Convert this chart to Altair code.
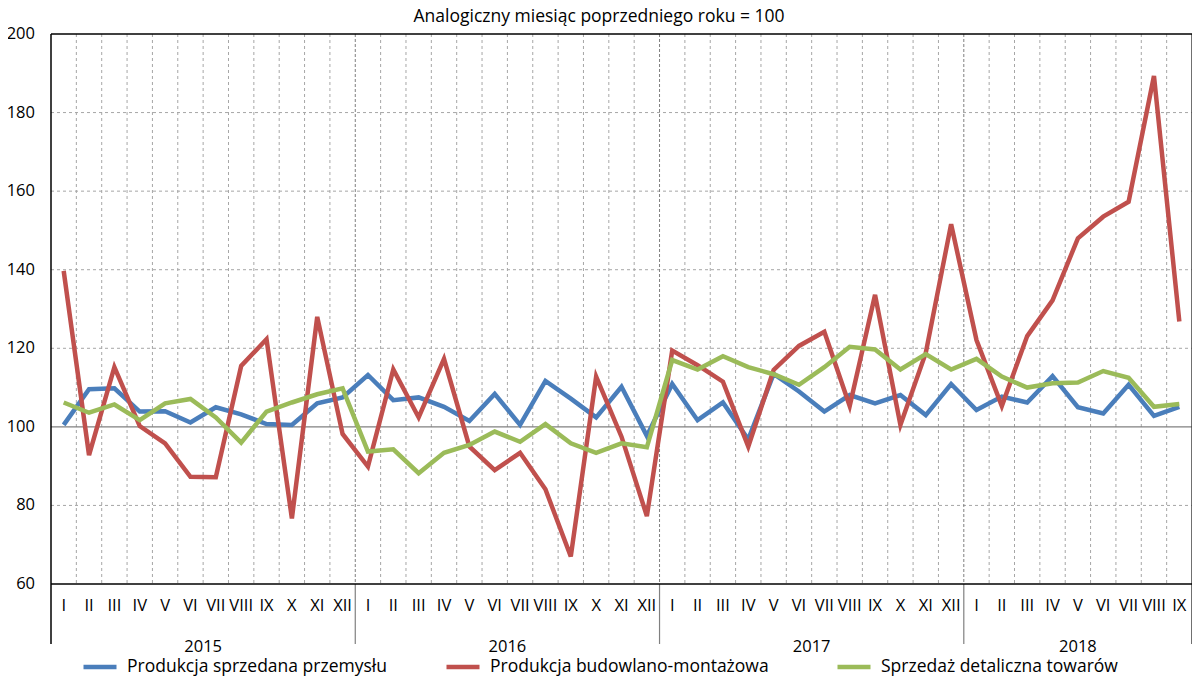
import altair as alt
import pandas as pd

months = ["I", "II", "III", "IV", "V", "VI", "VII", "VIII", "IX", "X", "XI", "XII"] * 3 + \
         ["I", "II", "III", "IV", "V", "VI", "VII", "VIII", "IX"]
years = ["2015", "2016", "2017", "2018"]
year_months = [12, 12, 12, 9]

s_names = ["Produkcja sprzedana przemysłu", "Produkcja budowlano-montażowa", "Sprzedaż detaliczna towarów"]
s_colors = ["#4A7EBB", "#C0504D", "#9BBB59"]

industry = [100.5, 109.6, 109.8, 103.9, 104.0, 101.1, 105.0, 103.2, 100.7, 100.5, 106.0, 107.5,
            113.2, 106.8, 107.5, 105.1, 101.5, 108.4, 100.5, 111.7, 107.2, 102.4, 110.2, 97.7,
            110.9, 101.7, 106.2, 96.8, 113.5, 109.0, 103.9, 108.1, 106.0, 108.1, 103.0, 110.9,
            104.3, 107.7, 106.2, 112.9, 105.0, 103.4, 110.7, 102.8, 105.1]
construction = [139.7, 92.8, 115.2, 100.2, 95.8, 87.3, 87.2, 115.5, 122.3, 76.7, 128.0, 98.2,
                89.9, 114.6, 102.4, 117.3, 95.0, 89.0, 93.4, 84.1, 67.0, 112.8, 97.5, 77.3,
                119.4, 115.7, 111.5, 95.0, 114.5, 120.6, 124.2, 105.3, 133.6, 100.5, 118.8, 151.6,
                122.1, 105.3, 123.1, 132.2, 148.0, 153.5, 157.3, 189.3, 126.8]
retail = [106.2, 103.6, 105.7, 101.7, 106.0, 107.1, 102.4, 96.0, 103.9, 106.2, 108.3, 109.8,
          93.7, 94.3, 88.2, 93.4, 95.4, 98.8, 96.2, 100.7, 95.8, 93.4, 95.8, 94.8,
          117.0, 114.6, 118.0, 115.2, 113.4, 110.7, 115.2, 120.4, 119.7, 114.6, 118.5, 114.6,
          117.3, 112.8, 110.0, 111.1, 111.3, 114.2, 112.5, 105.1, 105.8]

y_ticks = [60, 80, 100, 120, 140, 160, 180, 200]
title_text = "Analogiczny miesiąc poprzedniego roku = 100"

FONT = "Open Sans"
W, H = 1141, 550
n = len(months)

xs = alt.Scale(domain=[-0.5, n - 0.5], nice=False, zero=False)
ys = alt.Scale(domain=[60, 200], nice=False, zero=False)

# year boundaries
bounds = [-0.5]
for m in year_months:
    bounds.append(bounds[-1] + m)
year_centers = [(bounds[i] + bounds[i + 1]) / 2 for i in range(len(years))]
inner_bounds = bounds[1:-1]

vgrid = pd.DataFrame({"x": [i + 0.5 for i in range(n - 1) if (i + 0.5) not in inner_bounds]})
vgrid_year = pd.DataFrame({"x": inner_bounds})
hgrid = pd.DataFrame({"y": [v for v in y_ticks if v not in (60, 100, 200)]})

X = lambda f: alt.X(f, type="quantitative", scale=xs, axis=None)
Y = lambda f: alt.Y(f, type="quantitative", scale=ys, axis=None)

layers = []
layers.append(alt.Chart(hgrid).mark_rule(color="#A6A6A6", strokeDash=[3, 3], strokeWidth=1).encode(
    y=Y("y"), x=alt.value(0), x2=alt.value(W)))
layers.append(alt.Chart(vgrid).mark_rule(color="#A6A6A6", strokeDash=[3, 3], strokeWidth=1).encode(
    x=X("x"), y=alt.value(0), y2=alt.value(H)))
layers.append(alt.Chart(vgrid_year).mark_rule(color="#7F7F7F", strokeDash=[3, 2], strokeWidth=1).encode(
    x=X("x"), y=alt.value(0), y2=alt.value(H)))
layers.append(alt.Chart(pd.DataFrame({"y": [100]})).mark_rule(color="#808080", strokeWidth=1.2).encode(
    y=Y("y"), x=alt.value(0), x2=alt.value(W)))
# separators below the axis
layers.append(alt.Chart(pd.DataFrame({"x": inner_bounds})).mark_rule(color="#808080", strokeWidth=1.2).encode(
    x=X("x"), y=alt.value(H), y2=alt.value(H + 60)))
layers.append(alt.Chart(pd.DataFrame({"x": [bounds[0]]})).mark_rule(color="#000000", strokeWidth=1.5).encode(
    x=X("x"), y=alt.value(0), y2=alt.value(H + 60)))
layers.append(alt.Chart(pd.DataFrame({"x": [bounds[-1]]})).mark_rule(color="#404040", strokeWidth=1.5).encode(
    x=X("x"), y=alt.value(0), y2=alt.value(H + 60)))
# top and bottom borders
layers.append(alt.Chart(pd.DataFrame({"y": [60, 200]})).mark_rule(color="#000000", strokeWidth=1.5).encode(
    y=Y("y"), x=alt.value(0), x2=alt.value(W)))
# y axis labels
layers.append(alt.Chart(pd.DataFrame({"y": y_ticks})).mark_text(
    align="right", baseline="middle", font=FONT, fontSize=16.5, color="#000000").encode(
    y=Y("y"), x=alt.value(-16), text=alt.Text("y:Q")))
# month labels
mdf = pd.DataFrame({"x": list(range(n)), "m": months})
layers.append(alt.Chart(mdf).mark_text(
    align="center", baseline="middle", font=FONT, fontSize=16.5, color="#000000").encode(
    x=X("x"), y=alt.value(H + 22), text="m:N"))
# year labels
ydf = pd.DataFrame({"x": year_centers, "yr": years})
layers.append(alt.Chart(ydf).mark_text(
    align="center", baseline="middle", font=FONT, fontSize=16.5, color="#000000").encode(
    x=X("x"), y=alt.value(H + 63), text="yr:N"))
# title
layers.append(alt.Chart(pd.DataFrame({"t": [title_text]})).mark_text(
    align="center", baseline="alphabetic", font=FONT, fontSize=17.5, color="#000000").encode(
    x=alt.value(548), y=alt.value(-12), text="t:N"))

legend_x = [30, 393, 784]
series = [industry, construction, retail]
for k in range(3):
    df = pd.DataFrame({"x": list(range(n)), "v": series[k], "s": s_names[k]})
    layers.append(alt.Chart(df).mark_line(strokeWidth=4.5).encode(
        x=X("x"), y=Y("v"),
        color=alt.Color("s:N", scale=alt.Scale(domain=[s_names[k]], range=[s_colors[k]]),
                        legend=alt.Legend(title=None, orient="none", legendX=legend_x[k], legendY=614,
                                          symbolType="stroke", symbolSize=1089, symbolStrokeWidth=4.5,
                                          labelFont=FONT, labelFontSize=17.5, labelColor="#000000",
                                          labelLimit=400, labelOffset=8, padding=0))))

chart = alt.layer(*layers).resolve_scale(color="independent").resolve_legend(color="independent").properties(
    width=W, height=H,
    autosize=alt.AutoSizeParams(type="none"),
    padding={"left": 43, "top": 26, "right": 0, "bottom": 92},
    background="#FFFFFF",
).configure_view(stroke=None)

chart.save("out.html", embed_options={"renderer": "svg", "actions": False})
